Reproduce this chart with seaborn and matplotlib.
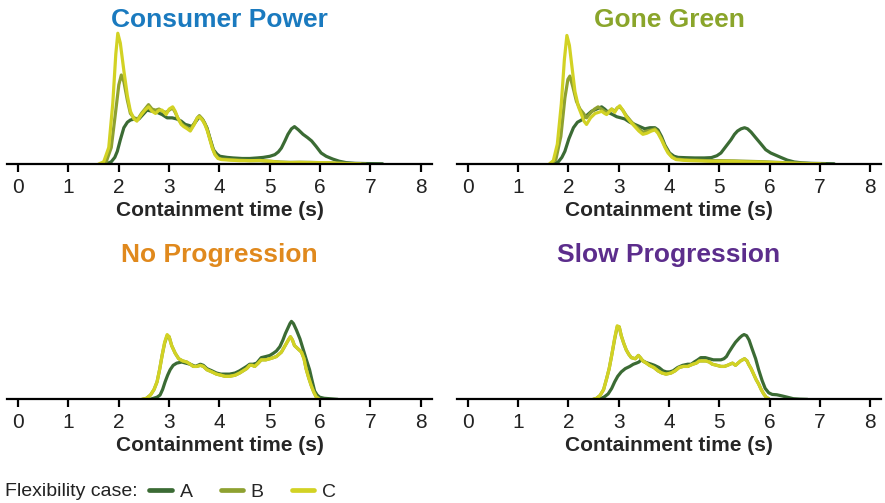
import matplotlib
matplotlib.use("Agg")
import matplotlib.pyplot as plt
import numpy as np
import pandas as pd
import seaborn as sns

# scenario names and title colours
scenarios = ["Consumer Power", "Gone Green", "No Progression", "Slow Progression"]
title_colors = ["#1a7abf", "#8aa52b", "#e0891d", "#5c2d8c"]
cases = ["A", "B", "C"]
case_colors = ["#3b6b34", "#8ea130", "#d2d224"]

# density curves (containment time in s, density)
cp_a_t = [1.75, 1.85, 1.92, 1.97, 2.03, 2.10, 2.17, 2.23, 2.32, 2.40, 2.48, 2.56, 2.66, 2.76, 2.86, 2.96, 3.06, 3.15, 3.24, 3.32, 3.40, 3.45, 3.52, 3.60, 3.67, 3.75, 3.82, 3.88, 3.95, 4.01, 4.15, 4.27, 4.45, 4.60, 4.75, 4.87, 5.00, 5.10, 5.17, 5.23, 5.30, 5.36, 5.43, 5.49, 5.57, 5.66, 5.75, 5.83, 5.92, 6.02, 6.12, 6.25, 6.38, 6.52, 6.70, 6.90, 7.24]
cp_a_d = [0.0, 0.02, 0.06, 0.115, 0.22, 0.33, 0.38, 0.40, 0.41, 0.41, 0.45, 0.49, 0.48, 0.47, 0.45, 0.42, 0.42, 0.41, 0.39, 0.36, 0.35, 0.34, 0.38, 0.43, 0.40, 0.33, 0.22, 0.13, 0.09, 0.07, 0.06, 0.055, 0.05, 0.05, 0.055, 0.06, 0.07, 0.085, 0.11, 0.145, 0.21, 0.27, 0.32, 0.34, 0.31, 0.27, 0.24, 0.21, 0.16, 0.10, 0.07, 0.045, 0.025, 0.012, 0.006, 0.004, 0.002]
cp_b_t = [1.65, 1.75, 1.85, 1.93, 2.00, 2.05, 2.10, 2.17, 2.23, 2.30, 2.38, 2.45, 2.52, 2.59, 2.66, 2.73, 2.80, 2.86, 2.94, 3.00, 3.07, 3.12, 3.17, 3.24, 3.29, 3.36, 3.42, 3.50, 3.56, 3.60, 3.66, 3.71, 3.76, 3.81, 3.86, 3.91, 3.97, 4.04, 4.20, 4.40, 4.60, 4.80, 5.00, 5.20, 5.40, 5.60, 5.80, 6.00, 6.20, 6.40, 6.60, 6.90]
cp_b_d = [0.0, 0.02, 0.15, 0.45, 0.72, 0.81, 0.75, 0.58, 0.46, 0.42, 0.41, 0.46, 0.50, 0.54, 0.50, 0.49, 0.50, 0.48, 0.47, 0.49, 0.51, 0.47, 0.42, 0.37, 0.35, 0.33, 0.31, 0.37, 0.42, 0.44, 0.41, 0.37, 0.31, 0.23, 0.15, 0.09, 0.055, 0.045, 0.04, 0.035, 0.03, 0.03, 0.025, 0.018, 0.015, 0.016, 0.015, 0.012, 0.01, 0.006, 0.003, 0.001]
cp_c_t = [1.60, 1.70, 1.80, 1.88, 1.94, 1.98, 2.03, 2.10, 2.17, 2.23, 2.30, 2.36, 2.45, 2.52, 2.59, 2.66, 2.73, 2.80, 2.86, 2.94, 3.00, 3.07, 3.12, 3.17, 3.24, 3.29, 3.36, 3.42, 3.50, 3.56, 3.60, 3.66, 3.71, 3.76, 3.81, 3.86, 3.91, 3.97, 4.04, 4.20, 4.40, 4.60, 4.80, 5.00, 5.20, 5.40, 5.60, 5.80, 6.00, 6.20, 6.40, 6.60, 6.80]
cp_c_d = [0.0, 0.02, 0.15, 0.55, 1.00, 1.19, 1.10, 0.85, 0.62, 0.48, 0.41, 0.39, 0.45, 0.49, 0.52, 0.48, 0.46, 0.49, 0.49, 0.45, 0.50, 0.52, 0.48, 0.42, 0.36, 0.34, 0.32, 0.30, 0.36, 0.42, 0.43, 0.40, 0.36, 0.30, 0.22, 0.14, 0.085, 0.05, 0.04, 0.035, 0.03, 0.03, 0.032, 0.025, 0.015, 0.012, 0.014, 0.012, 0.012, 0.01, 0.006, 0.003, 0.001]

gg_a_t = [1.72, 1.80, 1.87, 1.93, 2.01, 2.10, 2.18, 2.26, 2.36, 2.46, 2.56, 2.66, 2.72, 2.79, 2.88, 2.96, 3.04, 3.12, 3.22, 3.32, 3.42, 3.52, 3.62, 3.72, 3.78, 3.85, 3.92, 4.01, 4.10, 4.18, 4.35, 4.51, 4.70, 4.84, 4.95, 5.03, 5.13, 5.23, 5.30, 5.36, 5.43, 5.50, 5.56, 5.63, 5.72, 5.83, 5.92, 6.02, 6.12, 6.22, 6.35, 6.49, 6.65, 6.82, 7.05, 7.28]
gg_a_d = [0.0, 0.02, 0.06, 0.115, 0.23, 0.33, 0.38, 0.40, 0.44, 0.48, 0.50, 0.52, 0.50, 0.47, 0.45, 0.43, 0.42, 0.41, 0.38, 0.36, 0.34, 0.32, 0.33, 0.33, 0.31, 0.25, 0.17, 0.10, 0.07, 0.06, 0.057, 0.055, 0.055, 0.058, 0.075, 0.10, 0.16, 0.22, 0.27, 0.30, 0.32, 0.33, 0.32, 0.29, 0.24, 0.18, 0.13, 0.10, 0.08, 0.06, 0.035, 0.018, 0.01, 0.006, 0.004, 0.002]
gg_b_t = [1.65, 1.75, 1.85, 1.93, 1.99, 2.03, 2.09, 2.16, 2.23, 2.30, 2.36, 2.45, 2.52, 2.59, 2.66, 2.72, 2.78, 2.86, 2.92, 2.97, 3.02, 3.08, 3.15, 3.24, 3.32, 3.40, 3.48, 3.56, 3.65, 3.72, 3.78, 3.85, 3.92, 3.98, 4.06, 4.14, 4.30, 4.50, 4.80, 5.00, 5.30, 5.60, 5.90, 6.20, 6.50, 6.80, 7.10]
gg_b_d = [0.0, 0.04, 0.25, 0.60, 0.77, 0.80, 0.70, 0.57, 0.50, 0.46, 0.42, 0.47, 0.50, 0.52, 0.50, 0.48, 0.47, 0.50, 0.48, 0.51, 0.52, 0.49, 0.44, 0.39, 0.35, 0.32, 0.29, 0.30, 0.31, 0.32, 0.29, 0.23, 0.16, 0.11, 0.065, 0.045, 0.038, 0.035, 0.03, 0.03, 0.028, 0.024, 0.02, 0.014, 0.008, 0.004, 0.001]
gg_c_t = [1.62, 1.70, 1.78, 1.86, 1.92, 1.97, 2.02, 2.08, 2.13, 2.20, 2.26, 2.31, 2.36, 2.44, 2.53, 2.60, 2.66, 2.72, 2.76, 2.82, 2.86, 2.92, 2.97, 3.02, 3.08, 3.15, 3.24, 3.32, 3.40, 3.48, 3.56, 3.65, 3.72, 3.78, 3.85, 3.92, 3.98, 4.06, 4.14, 4.30, 4.44, 4.60, 4.84, 5.00, 5.23, 5.50, 5.76, 6.00, 6.29, 6.55, 6.80, 7.00]
gg_c_d = [0.0, 0.03, 0.18, 0.55, 0.95, 1.17, 1.08, 0.85, 0.66, 0.52, 0.45, 0.39, 0.36, 0.42, 0.46, 0.47, 0.48, 0.46, 0.45, 0.48, 0.50, 0.47, 0.51, 0.53, 0.49, 0.43, 0.38, 0.34, 0.30, 0.27, 0.28, 0.30, 0.31, 0.28, 0.22, 0.15, 0.10, 0.06, 0.04, 0.033, 0.03, 0.028, 0.024, 0.024, 0.024, 0.02, 0.018, 0.014, 0.01, 0.006, 0.003, 0.001]

np_a_t = [2.62, 2.69, 2.76, 2.82, 2.87, 2.92, 2.97, 3.02, 3.08, 3.15, 3.25, 3.33, 3.42, 3.52, 3.62, 3.68, 3.75, 3.85, 3.94, 4.03, 4.11, 4.20, 4.31, 4.40, 4.47, 4.54, 4.60, 4.67, 4.74, 4.83, 4.92, 5.00, 5.07, 5.13, 5.20, 5.26, 5.31, 5.36, 5.40, 5.43, 5.47, 5.53, 5.60, 5.66, 5.72, 5.79, 5.84, 5.89, 5.94, 5.99, 6.08, 6.19, 6.35]
np_a_d = [0.0, 0.01, 0.02, 0.04, 0.09, 0.16, 0.22, 0.27, 0.31, 0.33, 0.34, 0.33, 0.32, 0.30, 0.32, 0.31, 0.28, 0.26, 0.24, 0.23, 0.23, 0.23, 0.24, 0.26, 0.28, 0.30, 0.32, 0.32, 0.33, 0.38, 0.39, 0.40, 0.42, 0.44, 0.48, 0.54, 0.60, 0.65, 0.69, 0.71, 0.69, 0.63, 0.55, 0.46, 0.37, 0.27, 0.17, 0.076, 0.04, 0.02, 0.01, 0.006, 0.0]
np_b_t = [2.46, 2.55, 2.63, 2.70, 2.76, 2.81, 2.86, 2.91, 2.96, 3.00, 3.05, 3.12, 3.19, 3.27, 3.35, 3.42, 3.48, 3.55, 3.62, 3.68, 3.75, 3.85, 3.94, 4.03, 4.11, 4.20, 4.31, 4.40, 4.47, 4.54, 4.60, 4.65, 4.70, 4.77, 4.83, 4.92, 5.00, 5.07, 5.13, 5.18, 5.23, 5.28, 5.33, 5.38, 5.41, 5.45, 5.49, 5.56, 5.63, 5.68, 5.72, 5.77, 5.82, 5.87, 5.92, 5.99]
np_b_d = [0.0, 0.01, 0.04, 0.09, 0.16, 0.27, 0.40, 0.51, 0.58, 0.57, 0.49, 0.42, 0.37, 0.35, 0.34, 0.32, 0.30, 0.30, 0.31, 0.30, 0.27, 0.25, 0.23, 0.22, 0.21, 0.21, 0.22, 0.24, 0.26, 0.28, 0.31, 0.31, 0.30, 0.33, 0.36, 0.36, 0.37, 0.38, 0.39, 0.41, 0.43, 0.47, 0.51, 0.55, 0.57, 0.54, 0.49, 0.46, 0.43, 0.37, 0.28, 0.20, 0.13, 0.07, 0.024, 0.0]
np_c_t = [2.46, 2.55, 2.63, 2.70, 2.76, 2.81, 2.86, 2.91, 2.96, 3.00, 3.05, 3.12, 3.19, 3.27, 3.35, 3.42, 3.48, 3.55, 3.62, 3.68, 3.75, 3.85, 3.94, 4.03, 4.11, 4.20, 4.31, 4.40, 4.47, 4.54, 4.60, 4.65, 4.70, 4.77, 4.83, 4.92, 5.00, 5.07, 5.13, 5.18, 5.23, 5.28, 5.33, 5.38, 5.41, 5.45, 5.49, 5.56, 5.63, 5.68, 5.72, 5.77, 5.82, 5.87, 5.92, 5.99]
np_c_d = [0.0, 0.01, 0.04, 0.09, 0.16, 0.27, 0.40, 0.52, 0.59, 0.57, 0.49, 0.42, 0.37, 0.35, 0.34, 0.32, 0.30, 0.30, 0.31, 0.30, 0.27, 0.25, 0.23, 0.22, 0.21, 0.21, 0.22, 0.24, 0.26, 0.28, 0.31, 0.31, 0.30, 0.33, 0.36, 0.36, 0.37, 0.38, 0.39, 0.41, 0.43, 0.47, 0.51, 0.55, 0.57, 0.54, 0.49, 0.46, 0.43, 0.37, 0.28, 0.20, 0.13, 0.07, 0.024, 0.0]

sp_a_t = [2.60, 2.66, 2.72, 2.79, 2.86, 2.92, 2.98, 3.05, 3.13, 3.22, 3.29, 3.35, 3.40, 3.45, 3.52, 3.58, 3.65, 3.71, 3.80, 3.88, 3.95, 4.01, 4.08, 4.17, 4.27, 4.37, 4.44, 4.50, 4.57, 4.63, 4.72, 4.80, 4.88, 4.96, 5.03, 5.09, 5.14, 5.19, 5.26, 5.32, 5.40, 5.45, 5.49, 5.54, 5.59, 5.65, 5.72, 5.78, 5.85, 5.91, 5.98, 6.05, 6.14, 6.24, 6.34, 6.47, 6.60, 6.75]
sp_a_d = [0.0, 0.01, 0.025, 0.05, 0.10, 0.16, 0.21, 0.25, 0.28, 0.30, 0.32, 0.33, 0.34, 0.36, 0.34, 0.33, 0.32, 0.31, 0.29, 0.26, 0.25, 0.25, 0.26, 0.29, 0.31, 0.32, 0.32, 0.34, 0.36, 0.38, 0.38, 0.37, 0.36, 0.36, 0.36, 0.37, 0.39, 0.43, 0.48, 0.52, 0.56, 0.58, 0.59, 0.58, 0.54, 0.46, 0.37, 0.27, 0.17, 0.10, 0.06, 0.045, 0.042, 0.032, 0.021, 0.006, 0.002, 0.0]
sp_b_t = [2.49, 2.56, 2.63, 2.70, 2.76, 2.81, 2.86, 2.92, 2.97, 3.01, 3.05, 3.10, 3.15, 3.20, 3.25, 3.33, 3.39, 3.43, 3.48, 3.55, 3.61, 3.70, 3.78, 3.86, 3.94, 4.04, 4.12, 4.20, 4.28, 4.37, 4.47, 4.54, 4.60, 4.67, 4.73, 4.80, 4.86, 4.95, 5.03, 5.10, 5.16, 5.21, 5.26, 5.32, 5.37, 5.42, 5.50, 5.55, 5.58, 5.63, 5.68, 5.73, 5.78, 5.83, 5.88, 5.93, 5.98]
sp_b_d = [0.0, 0.01, 0.036, 0.09, 0.19, 0.28, 0.40, 0.55, 0.66, 0.66, 0.58, 0.51, 0.45, 0.41, 0.38, 0.37, 0.40, 0.38, 0.35, 0.33, 0.31, 0.29, 0.26, 0.24, 0.23, 0.24, 0.26, 0.29, 0.30, 0.30, 0.32, 0.33, 0.35, 0.35, 0.35, 0.34, 0.32, 0.31, 0.30, 0.30, 0.31, 0.32, 0.33, 0.31, 0.33, 0.35, 0.37, 0.35, 0.32, 0.28, 0.23, 0.18, 0.14, 0.09, 0.05, 0.02, 0.006]
sp_c_t = [2.49, 2.56, 2.63, 2.70, 2.76, 2.81, 2.86, 2.92, 2.97, 3.01, 3.05, 3.10, 3.15, 3.20, 3.25, 3.33, 3.39, 3.43, 3.48, 3.55, 3.61, 3.70, 3.78, 3.86, 3.94, 4.04, 4.12, 4.20, 4.28, 4.37, 4.47, 4.54, 4.60, 4.67, 4.73, 4.80, 4.86, 4.95, 5.03, 5.10, 5.16, 5.21, 5.26, 5.32, 5.37, 5.42, 5.50, 5.55, 5.58, 5.63, 5.68, 5.73, 5.78, 5.83, 5.88, 5.93, 5.98]
sp_c_d = [0.0, 0.01, 0.036, 0.09, 0.19, 0.28, 0.40, 0.56, 0.67, 0.66, 0.58, 0.51, 0.45, 0.41, 0.38, 0.37, 0.40, 0.38, 0.35, 0.33, 0.31, 0.29, 0.26, 0.24, 0.23, 0.24, 0.26, 0.29, 0.30, 0.30, 0.32, 0.33, 0.35, 0.35, 0.35, 0.34, 0.32, 0.31, 0.30, 0.30, 0.31, 0.32, 0.33, 0.31, 0.33, 0.35, 0.37, 0.35, 0.32, 0.28, 0.23, 0.18, 0.14, 0.09, 0.05, 0.02, 0.006]

xticks = [0, 1, 2, 3, 4, 5, 6, 7, 8]

curves = {
    "Consumer Power": [(cp_a_t, cp_a_d), (cp_b_t, cp_b_d), (cp_c_t, cp_c_d)],
    "Gone Green": [(gg_a_t, gg_a_d), (gg_b_t, gg_b_d), (gg_c_t, gg_c_d)],
    "No Progression": [(np_a_t, np_a_d), (np_b_t, np_b_d), (np_c_t, np_c_d)],
    "Slow Progression": [(sp_a_t, sp_a_d), (sp_b_t, sp_b_d), (sp_c_t, sp_c_d)],
}

sns.set_style("white")
plt.rcParams["font.family"] = ["Liberation Sans", "DejaVu Sans"]

fig = plt.figure(figsize=(8.85, 5.03), dpi=100)

# axes boxes in figure fractions (left, bottom, width, height)
boxes = [
    (0.008, 0.674, 0.480, 0.273),
    (0.516, 0.674, 0.480, 0.273),
    (0.008, 0.206, 0.480, 0.273),
    (0.516, 0.206, 0.480, 0.273),
]

for name, tcol, box in zip(scenarios, title_colors, boxes):
    ax = fig.add_axes(box)
    rows = []
    for case, (t, d) in zip(cases, curves[name]):
        rows.append(pd.DataFrame({"t": t, "d": d, "case": case}))
    df = pd.concat(rows, ignore_index=True)
    sns.lineplot(data=df, x="t", y="d", hue="case", palette=case_colors,
                 hue_order=cases, sort=False, estimator=None, linewidth=2.3,
                 legend=False, ax=ax)
    ax.set_xlim(-0.22, 8.22)
    ax.set_ylim(0, 1.25)
    ax.set_yticks([])
    ax.set_ylabel("")
    ax.set_xticks(xticks)
    ax.set_xticklabels([str(v) for v in xticks])
    for s in ["top", "right", "left"]:
        ax.spines[s].set_visible(False)
    ax.spines["bottom"].set_color("black")
    ax.spines["bottom"].set_linewidth(1.6)
    ax.tick_params(axis="x", bottom=True, direction="out", length=6, width=1.6,
                   color="black", labelsize=15, pad=4, labelcolor="#222222")
    ax.set_xlabel("Containment time (s)", fontsize=15, fontweight="bold", labelpad=3)
    ax.set_title(name, fontsize=19, fontweight="bold", color=tcol, pad=0)
    ax.patch.set_alpha(0)

# legend at the bottom
fig.text(0.006, 0.0135, "Flexibility case:", fontsize=14, color="#222222",
         ha="left", va="baseline")
handles = [plt.Line2D([], [], color=c, linewidth=3.4, solid_capstyle="round") for c in case_colors]
fig.legend(handles, cases, loc="lower left", bbox_to_anchor=(0.160, -0.012), ncol=3,
           frameon=False, fontsize=14, handlelength=1.15, handletextpad=0.4,
           columnspacing=1.45, borderaxespad=0)

fig.savefig("out.png", dpi=100)
